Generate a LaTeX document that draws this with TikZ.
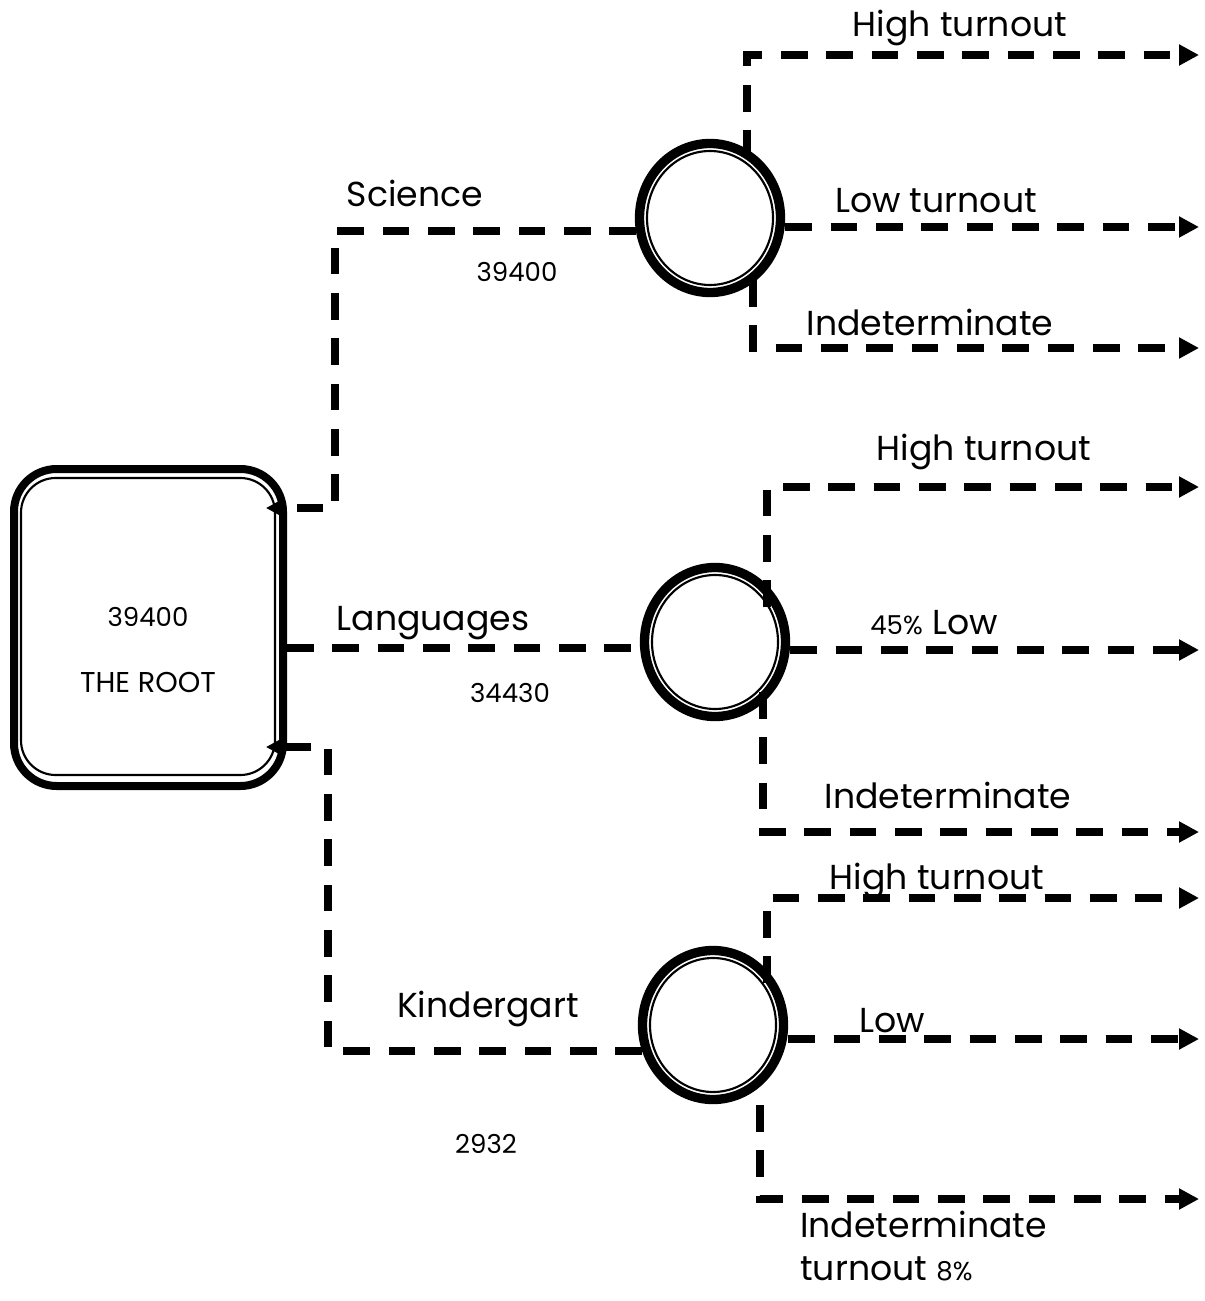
\documentclass[tikz,border=0pt]{standalone}
\usepackage{fontspec}
\setmainfont{Poppins}
\usetikzlibrary{arrows.meta,shapes.geometric,calc}
\begin{document}
\begin{tikzpicture}[x=0.75pt,y=-0.75pt,
  conn/.style={line width=5.5pt, dash pattern=on 20pt off 14pt},
  tipbig/.style={-{Triangle[length=15pt,width=15pt]}},
  tipsmall/.style={-{Triangle[length=10pt,width=10pt]}},
  decision/.style={ellipse, draw, line width=7pt, minimum width=105.75pt, minimum height=111.75pt, inner sep=0pt},
  rootbox/.style={draw, line width=6pt, rounded corners=32pt, minimum width=201.75pt, minimum height=237.75pt, inner sep=0pt},
  innerline/.style={line width=1.6pt},
  big/.style={font=\fontsize{26}{31}\selectfont, inner sep=0pt, anchor=base},
  small/.style={font=\fontsize{19.5}{23}\selectfont, inner sep=0pt, anchor=base},
]
\useasboundingbox (0,0) rectangle (1204,1301);

% root
\node[rootbox] (root) at (148.5,627.5) {};
\draw[innerline, rounded corners=26pt] ($(root.center)+(-127.5,-149.5)$) rectangle ($(root.center)+(126.5,147.5)$);
\node[small] (rv) at (148,626) {39400};
\node[small, font=\fontsize{21.5}{25}\selectfont] (rt) at (148,692) {THE ROOT};

% decision nodes
\node[decision] (c1) at (710,218) {};
\draw[innerline] (c1.center) ellipse [x radius=63, y radius=67];
\node[decision] (c2) at (715,642) {};
\draw[innerline] (c2.center) ellipse [x radius=63, y radius=67];
\node[decision] (c3) at (713,1025) {};
\draw[innerline] (c3.center) ellipse [x radius=63, y radius=67];

% root connectors
\coordinate (sk) at (335,508);
\draw[conn,tipsmall,shorten >=-15.75pt] (c1.190) -| (sk) -- (sk -| root.east);
\coordinate (lk) at (450,648);
\draw[conn] (root.east |- lk) -- (lk -| c2.west);
\coordinate (kk) at (328,747);
\draw[conn,tipsmall,shorten >=-15.75pt] (c3.200) -| (kk) -- (kk -| root.east);

% branch ends
\coordinate (e11) at (1199,55);
\coordinate (e12) at (1199,227);
\coordinate (e13) at (1199,348);
\coordinate (e21) at (1199,487);
\coordinate (e22) at (1199,650);
\coordinate (e23) at (1199,832);
\coordinate (e31) at (1199,898);
\coordinate (e32) at (1199,1039);
\coordinate (e33) at (1199,1199);

\draw[conn,tipbig] ($(c1.center)+(37,-61)$) |- (e11);
\draw[conn,tipbig] (c1.east |- e12) -- (e12);
\draw[conn,tipbig] ($(c1.center)+(43,62)$) |- (e13);
\draw[conn,tipbig] ($(c2.center)+(52,-35)$) |- (e21);
\draw[conn,tipbig] (c2.east |- e22) -- (e22);
\draw[conn,tipbig] ($(c2.center)+(48,50)$) |- (e23);
\draw[conn,tipbig] ($(c3.center)+(54,-42)$) |- (e31);
\draw[conn,tipbig] (c3.east |- e32) -- (e32);
\draw[conn,tipbig] ($(c3.center)+(47,80)$) |- (e33);

% labels
\node[big] (l1) at (960,37) {High turnout};
\node[big] (lsci) at (415,207) {Science};
\node[small] (n1) at (517,282) {39400};
\node[big] (l2) at (936,213) {Low turnout};
\node[big] (l3) at (930,336) {Indeterminate};
\node[big] (l4) at (984,460) {High turnout};
\node[big] (llan) at (433,630) {Languages};
\node[big] (l5) at (934,634) {{\fontsize{19.5}{23}\selectfont 45\%} Low};
\node[small] (n2) at (510,702) {34430};
\node[big] (l6) at (948,808) {Indeterminate};
\node[big] (l7) at (937,889) {High turnout};
\node[big] (lkin) at (488,1017) {Kindergart};
\node[big] (l8) at (892,1032) {Low};
\node[small] (n3) at (486,1153) {2932};
\node[big, anchor=base west] (l9a) at (800,1237) {Indeterminate};
\node[big, anchor=base west] (l9b) at (800,1280) {turnout {\fontsize{19.5}{23}\selectfont 8\%}};
\end{tikzpicture}
\end{document}
